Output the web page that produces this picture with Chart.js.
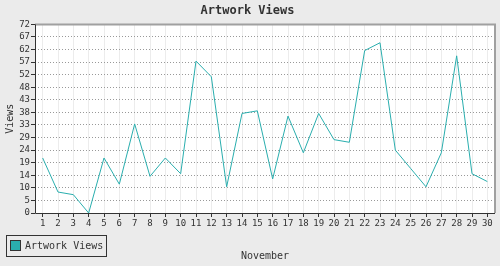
<!DOCTYPE html>
<html>
<head>
<meta charset="utf-8">
<script src="https://cdn.jsdelivr.net/npm/chart.js@4/dist/chart.umd.min.js"></script>
<style>
  html, body { margin: 0; padding: 0; background: #ebebeb; }
  #wrap { width: 500px; height: 266px; }
</style>
</head>
<body>
<div id="wrap"><canvas id="views" width="500" height="266"></canvas></div>
<script>
// days of november and views per day
var days = [];
for (var d = 1; d <= 30; d++) days.push(String(d));
var views = [21, 8, 7, 0, 21, 11, 34, 14, 21, 15, 58, 52, 10, 38, 39, 13, 37, 23, 38, 28, 27, 62, 65, 24, 17, 10, 23, 60, 15, 12];
var yTickLabels = ['0', '5', '10', '14', '19', '24', '29', '33', '38', '43', '48', '52', '57', '62', '67', '72'];
var yMax = 72;

var mono = "'DejaVu Sans Mono', monospace";
var teal = '#2aaeae';

// grey background, white plot area, top/right frame and the boxed legend
var frame = {
  id: 'frame',
  beforeDraw: function(chart) {
    var c = chart.ctx, a = chart.chartArea;
    c.save();
    c.fillStyle = '#ebebeb';
    c.fillRect(0, 0, chart.width, chart.height);
    c.fillStyle = '#ffffff';
    c.fillRect(a.left, a.top, a.right - a.left, a.bottom - a.top);
    c.restore();
  },
  afterDraw: function(chart) {
    var c = chart.ctx, a = chart.chartArea;
    c.save();
    c.strokeStyle = '#a0a0a0';
    c.lineWidth = 2;
    c.beginPath();
    c.moveTo(a.left, a.top);
    c.lineTo(a.right, a.top);
    c.lineTo(a.right, a.bottom);
    c.stroke();

    c.strokeStyle = '#333333';
    c.lineWidth = 1;
    c.beginPath();
    c.moveTo(a.left + 0.5, a.top);
    c.lineTo(a.left + 0.5, a.bottom + 0.5);
    c.lineTo(a.right, a.bottom + 0.5);
    c.stroke();

    // legend
    var ds = chart.data.datasets[0];
    c.fillStyle = '#ebebeb';
    c.fillRect(6, 235, 100, 21);
    c.strokeStyle = '#333333';
    c.strokeRect(6.5, 235.5, 100, 21);
    c.fillStyle = ds.borderColor;
    c.fillRect(10, 240, 11, 11);
    c.strokeRect(10.5, 240.5, 10, 10);
    c.fillStyle = '#333333';
    c.font = '10px ' + mono;
    c.textBaseline = 'middle';
    c.fillText(ds.label, 25, 246.5);
    c.restore();
  }
};

var ctx = document.getElementById('views');
var viewsChart = new Chart(ctx, {
  type: 'line',
  data: {
    labels: days,
    datasets: [{
      label: 'Artwork Views',
      data: views,
      borderColor: teal,
      backgroundColor: teal,
      borderWidth: 1,
      pointRadius: 0,
      tension: 0,
      fill: false
    }]
  },
  options: {
    responsive: false,
    animation: false,
    layout: { padding: { left: 0, right: 5, top: 0, bottom: 0 } },
    plugins: {
      legend: { display: false },
      tooltip: { enabled: false },
      title: {
        display: true,
        text: 'Artwork Views',
        color: '#333333',
        font: { family: mono, size: 12, weight: 'bold' },
        padding: { top: 4, bottom: 6 }
      }
    },
    scales: {
      x: {
        type: 'category',
        offset: true,
        afterFit: function(scale) { scale.height = 53; },
        border: { display: false },
        grid: {
          offset: false,
          color: '#ececec',
          lineWidth: 1,
          drawTicks: true,
          tickLength: 4,
          tickColor: '#333333'
        },
        ticks: {
          color: '#333333',
          font: { family: mono, size: 9 },
          padding: 1,
          maxRotation: 0,
          autoSkip: false
        },
        title: {
          display: true,
          text: 'November',
          color: '#333333',
          font: { family: mono, size: 10 },
          padding: { top: 0, bottom: 4 }
        }
      },
      y: {
        min: 0,
        max: yMax,
        afterFit: function(scale) { scale.width = 35; },
        afterBuildTicks: function(scale) {
          scale.ticks = yTickLabels.map(function(t, i) {
            return { value: i * yMax / (yTickLabels.length - 1) };
          });
        },
        border: { display: false, dash: [1, 2] },
        grid: {
          color: function(c) {
            return (c.index === 0 || c.index === yTickLabels.length - 1) ? 'rgba(0,0,0,0)' : '#999999';
          },
          lineWidth: 1,
          drawTicks: true,
          tickLength: 4,
          tickColor: '#333333',
          tickBorderDash: []
        },
        ticks: {
          color: '#333333',
          font: { family: mono, size: 9 },
          padding: 1,
          autoSkip: false,
          callback: function(v, i) { return yTickLabels[i]; }
        },
        title: {
          display: true,
          text: 'Views',
          color: '#333333',
          font: { family: mono, size: 10 },
          padding: { top: 4, bottom: 0 }
        }
      }
    }
  },
  plugins: [frame]
});
</script>
</body>
</html>
